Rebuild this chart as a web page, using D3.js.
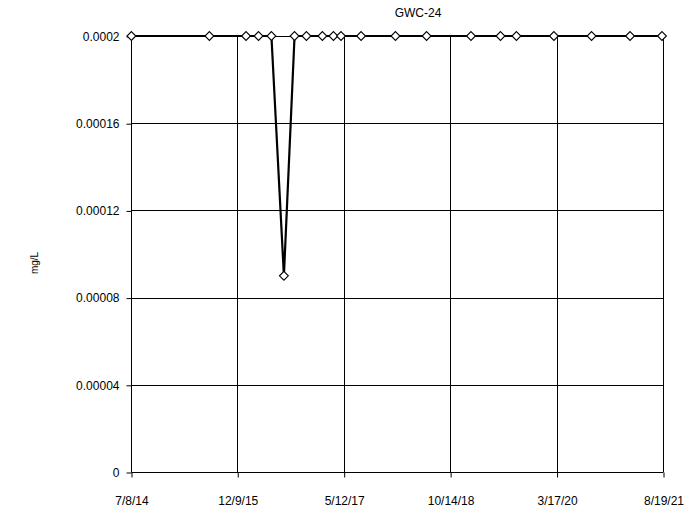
<!DOCTYPE html>
<html><head><meta charset="utf-8">
<script src="https://cdn.jsdelivr.net/npm/d3@7"></script>
<style>body{margin:0;background:#fff}svg{display:block}</style>
</head><body>
<script>
const title = "GWC-24";
const yLabel = "mg/L";
const sampleDates = ["2014-07-10","2015-07-26","2016-01-21","2016-03-22","2016-05-24","2016-07-24","2016-09-14","2016-11-11","2017-01-28","2017-03-23","2017-04-29","2017-08-05","2018-01-20","2018-06-21","2019-01-24","2019-06-17","2019-09-03","2020-03-04","2020-09-04","2021-03-11","2021-08-14"];
const values = [0.0002,0.0002,0.0002,0.0002,0.0002,0.00009,0.0002,0.0002,0.0002,0.0002,0.0002,0.0002,0.0002,0.0002,0.0002,0.0002,0.0002,0.0002,0.0002,0.0002,0.0002];
const xTickLabels = ["7/8/14","12/9/15","5/12/17","10/14/18","3/17/20","8/19/21"];
const yTicks = [0,0.00004,0.00008,0.00012,0.00016,0.0002];
const yTickLabels = ["0","0.00004","0.00008","0.00012","0.00016","0.0002"];

const W=698,H=510, L=131, R=663, T=36, B=472;
const parseISO = d3.utcParse("%Y-%m-%d");
const parseMDY = d3.utcParse("%m/%d/%y");
const xTickDates = xTickLabels.map(parseMDY);
const x = d3.scaleUtc().domain([xTickDates[0], xTickDates[xTickDates.length-1]]).range([L,R]);
const y = d3.scaleLinear().domain([0,0.0002]).range([B,T]);
const data = sampleDates.map((d,i)=>({date:parseISO(d), v:values[i]}));

const svg = d3.select("body").append("svg").attr("width",W).attr("height",H);
const font = "Liberation Sans, Arial, sans-serif";

// gridlines
svg.append("g").selectAll("line").data(yTicks.slice(1)).join("line")
  .attr("x1",L).attr("x2",R).attr("y1",d=>Math.round(y(d))+0.5).attr("y2",d=>Math.round(y(d))+0.5)
  .attr("stroke","#000").attr("stroke-width",1);
svg.append("g").selectAll("line").data(xTickDates.slice(1)).join("line")
  .attr("y1",T).attr("y2",B).attr("x1",d=>Math.round(x(d))+0.5).attr("x2",d=>Math.round(x(d))+0.5)
  .attr("stroke","#000").attr("stroke-width",1);

// axes
const xAxis = d3.axisBottom(x).tickValues(xTickDates).tickSize(5).tickFormat((d,i)=>xTickLabels[i]);
const gx = svg.append("g").attr("transform",`translate(0.5,${B+0.5})`).call(xAxis);
gx.select(".domain").attr("d",`M${L},0H${R}`);
gx.selectAll("text").attr("font-family",font).attr("font-size",12).attr("fill","#000").attr("dy","0.85em").attr("y",22);
gx.selectAll("line").attr("stroke","#000");

const yAxis = d3.axisLeft(y).tickValues(yTicks).tickSize(5).tickFormat((d,i)=>yTickLabels[i]);
const gy = svg.append("g").attr("transform",`translate(${L+0.5},0.5)`).call(yAxis);
gy.select(".domain").attr("d",`M0,${T}V${B}`);
gy.selectAll("text").attr("font-family",font).attr("font-size",12).attr("fill","#000").attr("x",-12);
gy.selectAll("line").attr("stroke","#000");

// line
const line = d3.line().x(d=>x(d.date)).y(d=>y(d.v));
svg.append("path").datum(data).attr("d",line).attr("fill","none").attr("stroke","#000").attr("stroke-width",2.2).attr("stroke-linejoin","miter");

// markers
const sym = d3.symbol().type(d3.symbolDiamond2).size(50);
svg.append("g").selectAll("path").data(data).join("path")
  .attr("transform",d=>`translate(${x(d.date)},${y(d.v)})`)
  .attr("d",sym).attr("fill","#fff").attr("stroke","#000").attr("stroke-width",1.1);

// title
svg.append("text").attr("x",418).attr("y",17).attr("text-anchor","middle")
  .attr("font-family",font).attr("font-size",12).text(title);
// y label
svg.append("text").attr("transform","translate(38,263) rotate(-90)").attr("text-anchor","middle")
  .attr("font-family",font).attr("font-size",10).text(yLabel);
</script>
</body></html>
